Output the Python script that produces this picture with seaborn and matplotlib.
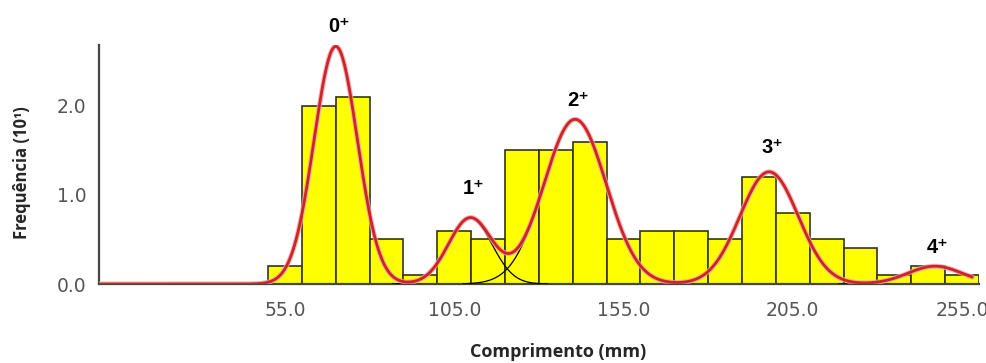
import numpy as np
import pandas as pd
import matplotlib
matplotlib.use("Agg")
import matplotlib.pyplot as plt
import seaborn as sns

# length-frequency histogram (bins of 10 mm), frequency in units of 10^1
bin_edges = [50, 60, 70, 80, 90, 100, 110, 120, 130, 140, 150,
             160, 170, 180, 190, 200, 210, 220, 230, 240, 250, 260]
freq = [0.2, 2.0, 2.1, 0.5, 0.1, 0.6, 0.5, 1.5, 1.5, 1.6,
        0.5, 0.6, 0.6, 0.5, 1.2, 0.8, 0.5, 0.4, 0.1, 0.2, 0.1]

# fitted normal components (age groups)
cohorts = ["0⁺", "1⁺", "2⁺", "3⁺", "4⁺"]
comp_mean = [70.0, 109.7, 140.7, 198.0, 247.0]
comp_sd = [6.4, 6.4, 9.2, 8.6, 8.0]
comp_peak = [2.67, 0.74, 1.85, 1.26, 0.20]
label_offset_px = [20, 30, 19, 24, 19]

x_ticks = [55, 105, 155, 205, 255]
y_ticks = [0, 1, 2]

centers = [(a + b) / 2 for a, b in zip(bin_edges[:-1], bin_edges[1:])]
hist_df = pd.DataFrame({"length": centers, "freq": freq})

xs = np.linspace(0, 258, 900)
comps = []
for m, s, h in zip(comp_mean, comp_sd, comp_peak):
    comps.append(h * np.exp(-0.5 * ((xs - m) / s) ** 2))
total = np.sum(comps, axis=0)

sns.set_style("white")
plt.rcParams["font.family"] = ["DejaVu Sans"]

fig = plt.figure(figsize=(9.87, 3.63), dpi=100)
ax = fig.add_axes([98.8 / 987, 79 / 363, 880.2 / 987, 239 / 363])

sns.histplot(data=hist_df, x="length", weights="freq", bins=bin_edges,
             color="#ffff00", edgecolor="#33331a", linewidth=1.2, alpha=1,
             ax=ax, zorder=2)

# individual components (thin black) drawn around their means
for m, s, c in zip(comp_mean, comp_sd, comps):
    mask = (xs > m - 3.6 * s) & (xs < m + 3.6 * s)
    sns.lineplot(x=xs[mask], y=c[mask], color="black", linewidth=0.9,
                 ax=ax, zorder=3, estimator=None, sort=False)

sns.lineplot(x=xs, y=total, color="#f0a0a8", linewidth=3.6, ax=ax,
             zorder=4, estimator=None, sort=False, alpha=0.8)
sns.lineplot(x=xs, y=total, color="#cc2428", linewidth=2.0, ax=ax,
             zorder=5, estimator=None, sort=False)

for lab, m, h, off in zip(cohorts, comp_mean, comp_peak, label_offset_px):
    ax.annotate(lab, xy=(m, h), xytext=(3, off), textcoords="offset pixels",
                ha="center", va="center", fontsize=14.5, fontweight="bold",
                family=["Liberation Sans", "DejaVu Sans"], color="black",
                annotation_clip=False)

ax.set_xlim(0, 260)
ax.set_ylim(0, 2.685)
ax.set_xticks(x_ticks)
ax.set_xticklabels([f"{v:.1f}" for v in x_ticks])
ax.set_yticks(y_ticks)
ax.set_yticklabels([f"{v:.1f}" for v in y_ticks])
ax.tick_params(axis="both", direction="out", length=6, width=1.5,
               color="#444444", labelcolor="#555555", labelsize=13.5)
ax.tick_params(axis="x", pad=6)
ax.tick_params(axis="y", pad=3)

sns.despine(ax=ax, top=True, right=True)
for side in ["left", "bottom"]:
    ax.spines[side].set_color("#444444")
    ax.spines[side].set_linewidth(1.6)
ax.set_xlabel("")
ax.set_ylabel("")

fig.text(558 / 987, 1 - 352 / 363, "Comprimento (mm)", ha="center",
         va="center", fontsize=13, fontweight="bold", family="Open Sans")
fig.text(22 / 987, 1 - 173 / 363, "Frequência (10¹)", ha="center",
         va="center", rotation=90, fontsize=12, fontweight="bold",
         family="Open Sans")

fig.savefig("out.png", dpi=100, facecolor="white")
